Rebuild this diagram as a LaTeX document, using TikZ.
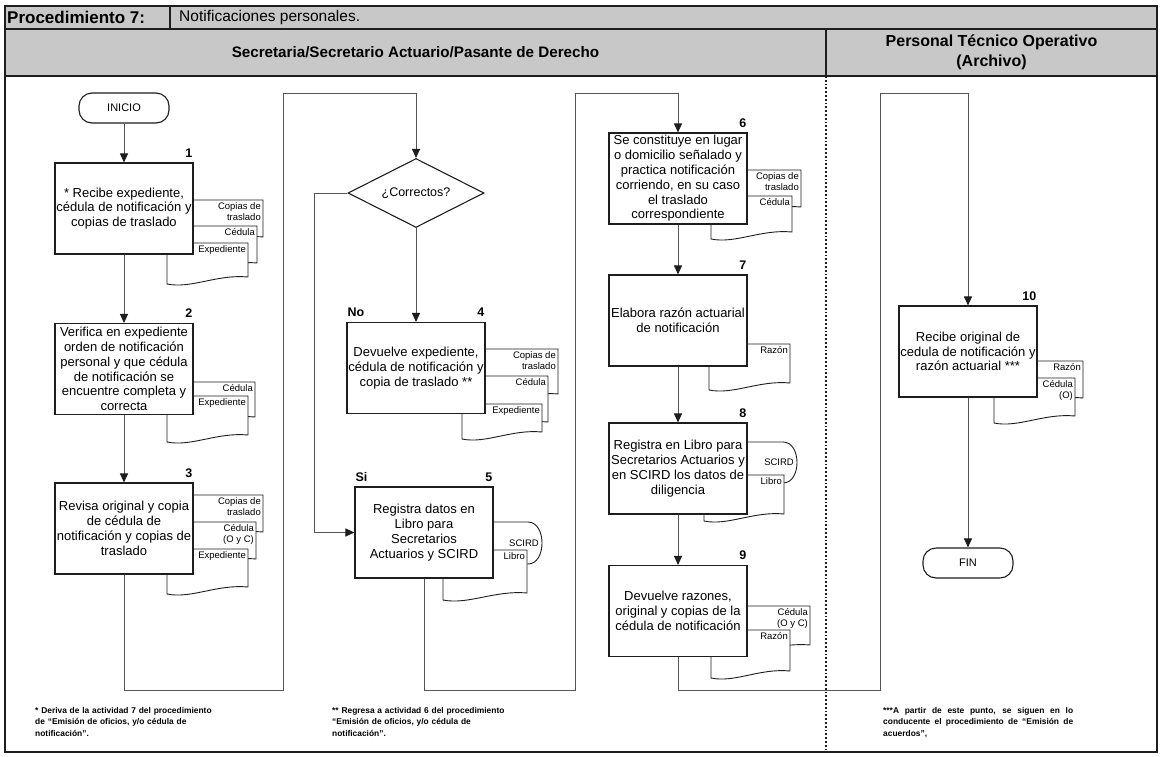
\documentclass[tikz,border=0pt]{standalone}
\usepackage{fontspec}
\setmainfont{Liberation Sans}
\usetikzlibrary{arrows.meta,shapes.geometric,calc}
\definecolor{hdrgray}{RGB}{200,200,200}
\definecolor{ink}{RGB}{30,30,30}
\definecolor{wire}{RGB}{85,85,85}

\tikzset{
  frame/.style={draw=ink,line width=1.3pt},
  proc/.style={draw=ink,line width=1.1pt,fill=white,minimum width=138pt,minimum height=91pt,
    inner sep=0pt,align=center,font=\fontsize{13}{14.8}\selectfont},
  term/.style={draw=ink,line width=1.1pt,fill=white,rounded corners=13pt,minimum width=90pt,
    minimum height=30pt,font=\fontsize{11}{13}\selectfont},
  decide/.style={diamond,draw=ink,line width=1.1pt,fill=white,minimum width=136pt,
    minimum height=69pt,aspect=2,inner sep=0pt,font=\fontsize{12.5}{14}\selectfont},
  num/.style={font=\bfseries\fontsize{12.5}{14}\selectfont,inner sep=1pt,yshift=4pt},
  docline/.style={draw=ink,line width=0.9pt,fill=white},
  doclbl/.style={font=\fontsize{9.5}{11}\selectfont,align=right,inner sep=1pt},
  flow/.style={draw=wire,line width=1pt,-{Triangle[length=9pt,width=8pt,color=ink]}},
  note/.style={font=\bfseries\fontsize{8.4}{11.5}\selectfont,inner sep=0pt,anchor=north west},
}

% document symbol: name, left, top, right, bottom, label
\newcommand\docsh[6]{%
  \path[docline] (#2,#3) -- (#4,#3) -- (#4,{#5-7})
    .. controls ({#2+0.62*(#4-#2)},{#5-10}) and ({#2+0.3*(#4-#2)},{#5+5}) .. (#2,#5) -- cycle;
  \node[doclbl,anchor=north east] (#1) at ({#4-1},{#3+1}) {#6};}

% stored-data drum: name, left, top, right, bottom, label
\newcommand\drumsh[6]{%
  \path[docline] (#2,#3) -- ({#4-14},#3)
    .. controls ({#4+4.67},#3) and ({#4+4.67},#5) .. ({#4-14},#5) -- (#2,#5) -- cycle;
  \node[doclbl,anchor=east] (#1) at ({#4-2},{(#3+#5)/2}) {#6};}

\begin{document}
\begin{tikzpicture}[x=1pt,y=-1pt]
\useasboundingbox (0,0) rectangle (1162,756);
\fill[white] (0,0) rectangle (1162,756);

% table frame and lane headers
\fill[hdrgray] (5,6) rectangle (1157,76);
\draw[frame] (5,6) rectangle (1157,752);
\draw[frame] (5,29) -- (1157,29);
\draw[frame] (5,76) -- (1157,76);
\draw[frame] (170,6) -- (170,29);
\draw[frame] (826,29) -- (826,76);
\draw[ink,line width=1.8pt,dotted] (826,76) -- (826,752);

\node[font=\bfseries\fontsize{17}{18}\selectfont,anchor=west,inner sep=0pt] (proc) at (7,17.5) {Procedimiento 7:};
\node[font=\fontsize{15.5}{17}\selectfont,anchor=west,inner sep=0pt] (ptitle) at (179,17.5) {Notificaciones personales.};
\node[font=\bfseries\fontsize{15.2}{17}\selectfont] (laneA) at (415.5,52.5) {Secretaria/Secretario Actuario/Pasante de Derecho};
\node[font=\bfseries\fontsize{16}{20.5}\selectfont,align=center] (laneB) at (991.5,52.5) {Personal Técnico Operativo\\(Archivo)};

% documents attached to the activities
\docsh{d1a}{179}{200}{263}{244}{Copias de\\traslado}
\docsh{d1b}{173}{226}{257}{270}{Cédula}
\docsh{d1c}{167}{243}{248}{284}{Expediente}

\docsh{d2a}{173}{382}{255}{424}{Cédula}
\docsh{d2b}{167}{396}{248}{442}{Expediente}

\docsh{d3a}{179}{495}{263}{539}{Copias de\\traslado}
\docsh{d3b}{173}{522}{256}{566}{Cédula\\(O y C)}
\docsh{d3c}{167}{549}{248}{594}{Expediente}

\docsh{d4a}{474}{349}{558}{401}{Copias de\\traslado}
\docsh{d4b}{468}{376}{548}{429}{Cédula}
\docsh{d4c}{462}{404}{542}{439}{Expediente}

\drumsh{d5a}{470}{522}{542}{564}{SCIRD}
\docsh{d5b}{443}{550}{527}{600}{Libro}

\docsh{d6a}{725}{170}{801}{214}{Copias de\\traslado}
\docsh{d6b}{711}{196}{792}{239}{Cédula}

\docsh{d7a}{709}{344}{790}{390}{Razón}

\drumsh{d8a}{720}{442}{797}{483}{SCIRD}
\docsh{d8b}{704}{475}{784}{521}{Libro}

\docsh{d9a}{723}{606}{810}{652}{Cédula\\(O y C)}
\docsh{d9b}{711}{630}{790}{678}{Razón}

\docsh{d10a}{1010}{361}{1083}{405}{Razón}
\docsh{d10b}{994}{378}{1075}{423}{Cédula\\(O)}

% activities
\node[term] (ini) at (124,108) {INICIO};
\node[proc] (b1) at (124,208.5) {* Recibe expediente,\\cédula de notificación y\\copias de traslado};
\node[proc] (b2) at (124,369) {Verifica en expediente\\orden de notificación\\personal y que cédula\\de notificación se\\encuentre completa y\\correcta};
\node[proc] (b3) at (124,528.5) {Revisa original y copia\\de cédula de\\notificación y copias de\\traslado};
\node[decide] (dia) at (416,193) {¿Correctos?};
\node[proc] (b4) at (416,368) {Devuelve expediente,\\cédula de notificación y\\copia de traslado **};
\node[proc] (b5) at (424,532.5) {Registra datos en\\Libro para\\Secretarios\\Actuarios y SCIRD};
\node[proc] (b6) at (678,178.5) {Se constituye en lugar\\o domicilio señalado y\\practica notificación\\corriendo, en su caso\\el traslado\\correspondiente};
\node[proc] (b7) at (678,320.5) {Elabora razón actuarial\\de notificación};
\node[proc] (b8) at (678,468.5) {Registra en Libro para\\Secretarios Actuarios y\\en SCIRD los datos de\\diligencia};
\node[proc] (b9) at (678,611) {Devuelve razones,\\original y copias de la\\cédula de notificación};
\node[proc] (b10) at (968,351.5) {Recibe original de\\cedula de notificación y\\razón actuarial ***};
\node[term] (fin) at (968,563) {FIN};

% activity numbers and branch labels
\node[num,anchor=south east] (n1) at (b1.north east) {1};
\node[num,anchor=south east] (n2) at (b2.north east) {2};
\node[num,anchor=south east] (n3) at (b3.north east) {3};
\node[num,anchor=south east] (n4) at (b4.north east) {4};
\node[num,anchor=south east] (n5) at (b5.north east) {5};
\node[num,anchor=south east] (n6) at (b6.north east) {6};
\node[num,anchor=south east] (n7) at (b7.north east) {7};
\node[num,anchor=south east] (n8) at (b8.north east) {8};
\node[num,anchor=south east] (n9) at (b9.north east) {9};
\node[num,anchor=south east] (n10) at (b10.north east) {10};
\node[num,anchor=south west] (lno) at (b4.north west) {No};
\node[num,anchor=south west] (lsi) at (b5.north west) {Si};

% bend points of the connectors
\coordinate (k1) at (124,690);
\coordinate (k2) at (283,690);
\coordinate (k3) at (283,93);
\coordinate (k4) at (314,193);
\coordinate (k5) at (424,690);
\coordinate (k6) at (575,690);
\coordinate (k7) at (575,93);
\coordinate (k8) at (678,690);
\coordinate (k9) at (880,690);
\coordinate (k10) at (880,93);

% connectors
\draw[flow] (ini) -- (b1);
\draw[flow] (b1) -- (b2);
\draw[flow] (b2) -- (b3);
\draw[flow] (b3.south) -- (k1) -- (k2) -- (k3) -| (dia.north);
\draw[flow] (dia.south) -- (b4.north);
\draw[flow] (dia.west) -- (k4) |- (b5.west);
\draw[flow] (b5.south) -- (k5) -- (k6) -- (k7) -| (b6.north);
\draw[flow] (b6) -- (b7);
\draw[flow] (b7) -- (b8);
\draw[flow] (b8) -- (b9);
\draw[flow] (b9.south) -- (k8) -- (k9) -- (k10) -| (b10.north);
\draw[flow] (b10) -- (fin);

% footnotes
\node[note,text width=230pt,align=left] (f1) at (35,707) {* Deriva de la actividad 7 del procedimiento\\de “Emisión de oficios, y/o cédula de\\notificación”.};
\node[note,text width=230pt,align=left] (f2) at (332,707) {** Regresa a actividad 6 del procedimiento\\“Emisión de oficios, y/o cédula de\\notificación”.};
\node[note,text width=190pt,align=justify] (f3) at (883,707) {***A partir de este punto, se siguen en lo\linebreak conducente el procedimiento de “Emisión de\linebreak acuerdos”,};
\end{tikzpicture}
\end{document}
